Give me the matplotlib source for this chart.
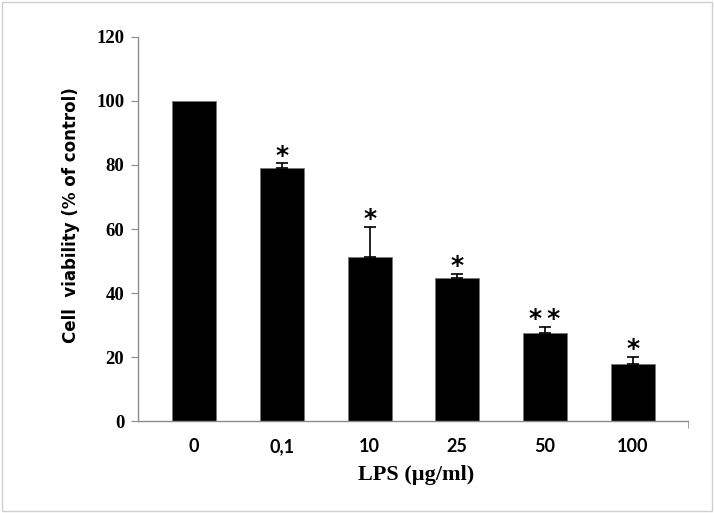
import matplotlib
matplotlib.use("Agg")
import matplotlib.pyplot as plt
from matplotlib.patches import Rectangle

categories = ["0", "0,1", "10", "25", "50", "100"]
viability = [100, 78.9, 51.4, 44.8, 27.5, 17.8]
errors = [0, 1.6, 9.3, 1.1, 2.1, 2.4]
stars = ["", "*", "*", "*", "**", "*"]
yticks = [0, 20, 40, 60, 80, 100, 120]

W, H = 714, 513
fig = plt.figure(figsize=(W / 100, H / 100), dpi=100)
ax = fig.add_axes([0.1933, 0.1784, 0.7703, 0.7501])

x = list(range(len(categories)))
ax.bar(x, viability, width=0.5, color="black", edgecolor="#777777", linewidth=0.6, zorder=2)
ax.errorbar(x[1:], viability[1:], yerr=[[0] * 5, errors[1:]], fmt="none",
            ecolor="black", elinewidth=1.2, capsize=4, capthick=1.2, zorder=3)
for xi, v, e, s in zip(x, viability, errors, stars):
    if s:
        ax.annotate("\u2009".join(s), (xi, v + e), xytext=(0, -3), textcoords="offset points",
                    ha="center", va="bottom", fontsize=18, fontweight="bold",
                    family="DejaVu Sans")

xmin, xmax = -0.64, 5.63
ax.set_xlim(xmin, xmax)
ax.set_ylim(0, 120)
ax.set_yticks(yticks)
ax.set_xticks(x)
ax.set_xticklabels(categories)
ax.set_xticks([xmax], minor=True)
for sp in ["top", "right"]:
    ax.spines[sp].set_visible(False)
for sp in ["left", "bottom"]:
    ax.spines[sp].set_color("#8c8c8c")
    ax.spines[sp].set_linewidth(1.0)
ax.tick_params(axis="y", direction="out", length=5, color="#8c8c8c", pad=5)
ax.tick_params(axis="x", which="major", length=0, pad=12)
ax.tick_params(axis="x", which="minor", length=5, color="#8c8c8c", direction="out")
for lab in ax.get_yticklabels():
    lab.set_fontfamily("Liberation Serif")
    lab.set_fontweight("bold")
    lab.set_fontsize(13.5)
for lab in ax.get_xticklabels():
    lab.set_fontfamily("Lato")
    lab.set_fontweight("bold")
    lab.set_fontsize(13)

fig.text(71 / W, 1 - 215 / H, "Cell  viability (% of control)", rotation=90,
         ha="center", va="center", fontsize=12, fontweight="bold", family="DejaVu Sans")
fig.text(416 / W, 1 - 475 / H, "LPS (µg/ml)", ha="center", va="center",
         fontsize=16, fontweight="bold", family="Liberation Serif")

fig.patches.append(Rectangle((0.003, 0.004), 0.994, 0.992, transform=fig.transFigure,
                             fill=False, edgecolor="#d0d0d0", linewidth=1.0))

fig.savefig("out.png", dpi=100)
